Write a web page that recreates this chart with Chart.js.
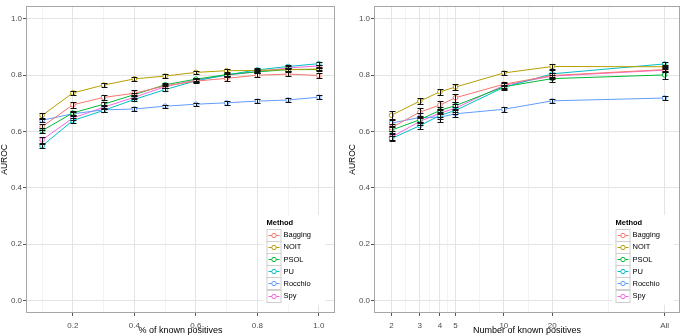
<!DOCTYPE html>
<html lang="en">
<head>
<meta charset="UTF-8">
<title>AUROC vs known positives</title>
<script src="https://cdn.jsdelivr.net/npm/chart.js"></script>
<style>
  html, body { margin: 0; padding: 0; background: #fff; }
  #left { position: absolute; left: 0; top: 0; }
  #right { position: absolute; left: 340px; top: 0; }
</style>
</head>
<body>
<canvas id="left" width="340" height="336"></canvas>
<canvas id="right" width="345" height="336"></canvas>
<script>
// methods and their colours (ggplot default hue palette)
const methods = ["Bagging", "NOIT", "PSOL", "PU", "Rocchio", "Spy"];
const colors = ["#F8766D", "#B79F00", "#00BA38", "#00BFC4", "#619CFF", "#F564E3"];

// y axis
const yTicks = [0, 0.2, 0.4, 0.6, 0.8, 1.0];
const yTickLabels = ["0.0", "0.2", "0.4", "0.6", "0.8", "1.0"];

// left panel: % of known positives
const pctX = [0.1, 0.2, 0.3, 0.4, 0.5, 0.6, 0.7, 0.8, 0.9, 1.0];
const pctTicks = [0.2, 0.4, 0.6, 0.8, 1.0];
const pctTickLabels = ["0.2", "0.4", "0.6", "0.8", "1.0"];
const pctMinor = [0.1, 0.3, 0.5, 0.7, 0.9];

const pctBagging = [0.617, 0.695, 0.721, 0.736, 0.762, 0.779, 0.789, 0.800, 0.804, 0.799];
const pctNOIT    = [0.657, 0.737, 0.765, 0.787, 0.797, 0.810, 0.816, 0.817, 0.820, 0.822];
const pctPSOL    = [0.603, 0.666, 0.697, 0.731, 0.766, 0.786, 0.802, 0.812, 0.820, 0.820];
const pctPU      = [0.549, 0.639, 0.675, 0.714, 0.749, 0.780, 0.801, 0.819, 0.831, 0.841];
const pctRocchio = [0.640, 0.663, 0.677, 0.680, 0.690, 0.697, 0.702, 0.708, 0.712, 0.722];
const pctSpy     = [0.570, 0.648, 0.686, 0.722, 0.759, 0.783, 0.800, 0.813, 0.826, 0.833];

// error bar half widths
const pctBaggingErr = [0.010, 0.010, 0.010, 0.010, 0.006, 0.007, 0.008, 0.007, 0.006, 0.009];
const pctNOITErr    = [0.010, 0.006, 0.006, 0.006, 0.006, 0.006, 0.006, 0.005, 0.005, 0.005];
const pctPSOLErr    = [0.008, 0.006, 0.008, 0.006, 0.005, 0.005, 0.005, 0.005, 0.005, 0.005];
const pctPUErr      = [0.008, 0.008, 0.006, 0.006, 0.006, 0.005, 0.005, 0.005, 0.005, 0.005];
const pctRocchioErr = [0.006, 0.006, 0.006, 0.006, 0.006, 0.006, 0.006, 0.006, 0.006, 0.006];
const pctSpyErr     = [0.009, 0.008, 0.007, 0.006, 0.006, 0.006, 0.006, 0.005, 0.005, 0.005];

// right panel: number of known positives ("All" sits at 100 on the log axis)
const numX = [2, 3, 4, 5, 10, 20, 100];
const numTickLabels = ["2", "3", "4", "5", "10", "20", "All"];

const numBagging = [0.614, 0.669, 0.694, 0.720, 0.768, 0.799, 0.820];
const numNOIT    = [0.658, 0.708, 0.741, 0.758, 0.808, 0.831, 0.830];
const numPSOL    = [0.605, 0.642, 0.675, 0.692, 0.759, 0.788, 0.801];
const numPU      = [0.575, 0.621, 0.657, 0.675, 0.757, 0.805, 0.840];
const numRocchio = [0.630, 0.650, 0.651, 0.663, 0.679, 0.709, 0.719];
const numSpy     = [0.580, 0.636, 0.665, 0.683, 0.764, 0.797, 0.818];

const numBaggingErr = [0.012, 0.016, 0.016, 0.014, 0.008, 0.010, 0.008];
const numNOITErr    = [0.014, 0.010, 0.010, 0.010, 0.008, 0.008, 0.008];
const numPSOLErr    = [0.010, 0.012, 0.012, 0.012, 0.008, 0.012, 0.014];
const numPUErr      = [0.008, 0.012, 0.012, 0.012, 0.010, 0.012, 0.008];
const numRocchioErr = [0.010, 0.015, 0.016, 0.012, 0.008, 0.007, 0.007];
const numSpyErr     = [0.010, 0.012, 0.014, 0.014, 0.008, 0.010, 0.008];

const FONT = "'Liberation Sans', Arial, sans-serif";
Chart.defaults.font.family = FONT;
Chart.defaults.animation = false;

function near(a, b) { return Math.abs(a - b) < 1e-9 * Math.max(1, Math.abs(b)); }

function buildDatasets(xs, series, errs) {
  return methods.map((m, i) => ({
    label: m,
    data: xs.map((x, j) => ({ x: x, y: series[i][j] })),
    err: errs[i],
    borderColor: colors[i],
    borderWidth: 1,
    pointRadius: 2.3,
    pointBorderWidth: 1,
    pointBorderColor: colors[i],
    pointBackgroundColor: "#ffffff",
    tension: 0,
  }));
}

// black error bars drawn through the scales
const errorBars = {
  id: "errorBars",
  afterDatasetsDraw(chart) {
    const ctx = chart.ctx, xs = chart.scales.x, ys = chart.scales.y;
    ctx.save();
    ctx.strokeStyle = "#111";
    ctx.lineWidth = 1;
    chart.data.datasets.forEach((ds) => {
      ds.data.forEach((p, j) => {
        const e = ds.err[j];
        const px = Math.round(xs.getPixelForValue(p.x)) + 0.5;
        const top = Math.round(ys.getPixelForValue(p.y + e)) + 0.5;
        const bot = Math.round(ys.getPixelForValue(p.y - e)) + 0.5;
        ctx.beginPath();
        ctx.moveTo(px, top); ctx.lineTo(px, bot);
        ctx.moveTo(px - 3, top); ctx.lineTo(px + 3, top);
        ctx.moveTo(px - 3, bot); ctx.lineTo(px + 3, bot);
        ctx.stroke();
      });
    });
    ctx.restore();
  },
};

// panel border + "Method" legend
function panelExtras(keyLeft) {
  return {
    id: "panelExtras",
    afterDraw(chart) {
      const ctx = chart.ctx, a = chart.chartArea;
      ctx.save();
      ctx.strokeStyle = "#a6a6a6";
      ctx.lineWidth = 1;
      ctx.strokeRect(Math.round(a.left) + 0.5, Math.round(a.top) + 0.5,
        Math.round(a.right - a.left) - 1, Math.round(a.bottom - a.top) - 1);

      const top = 228.5, row = 12.2, kw = 14;
      ctx.fillStyle = "#ffffff";
      ctx.fillRect(keyLeft - 3, 215, 62, top + row * methods.length + 3 - 215);
      ctx.fillStyle = "#000";
      ctx.textBaseline = "middle";
      ctx.textAlign = "left";
      ctx.font = "bold 7.5px " + FONT;
      ctx.fillText("Method", keyLeft, 222.5);
      ctx.font = "7.5px " + FONT;
      methods.forEach((m, i) => {
        const y = top + i * row;
        ctx.strokeStyle = "#cfcfcf";
        ctx.strokeRect(keyLeft + 0.5, Math.round(y) + 0.5, kw, Math.round(row));
        const cy = Math.round(y + row / 2) + 0.5;
        ctx.strokeStyle = colors[i];
        ctx.beginPath();
        ctx.moveTo(keyLeft + 2, cy); ctx.lineTo(keyLeft + kw - 1, cy);
        ctx.stroke();
        ctx.beginPath();
        ctx.arc(keyLeft + kw / 2 + 0.5, cy, 2.2, 0, Math.PI * 2);
        ctx.fillStyle = "#fff";
        ctx.fill();
        ctx.stroke();
        ctx.fillStyle = "#000";
        ctx.fillText(m, keyLeft + kw + 3, y + row / 2 + 0.5);
      });
      ctx.restore();
    },
  };
}

function makePanel(id, opts) {
  const isMajor = (v) => opts.xTicks.some((t) => near(v, t));
  new Chart(document.getElementById(id), {
    type: "line",
    data: { datasets: buildDatasets(opts.xs, opts.series, opts.errs) },
    options: {
      responsive: false,
      parsing: true,
      layout: { padding: { top: 1, right: 2, bottom: 0, left: opts.padLeft } },
      plugins: { legend: { display: false }, tooltip: { enabled: false } },
      scales: {
        x: {
          type: opts.xType,
          min: opts.xMin,
          max: opts.xMax,
          afterBuildTicks: (s) => { s.ticks = opts.xGrid.map((v) => ({ value: v })); },
          afterFit: (s) => { s.height = 23; },
          ticks: {
            autoSkip: false, maxRotation: 0, padding: 5, color: "#4d4d4d",
            font: { size: 8 },
            callback: (v) => {
              const k = opts.xTicks.findIndex((t) => near(v, t));
              return k >= 0 ? opts.xLabels[k] : "";
            },
          },
          grid: {
            color: (c) => (isMajor(c.tick.value) ? "#e4e4e4" : "#f3f3f3"),
            tickColor: (c) => (isMajor(c.tick.value) ? "#555" : "rgba(0,0,0,0)"),
            tickLength: 3,
          },
          border: { display: false },
          title: { display: true, text: opts.xTitle, color: "#000", font: { size: 9 }, padding: 0 },
        },
        y: {
          min: -0.0444,
          max: 1.0465,
          afterBuildTicks: (s) => { s.ticks = yTicks.map((v) => ({ value: v })); },
          afterFit: (s) => { s.width = opts.yWidth; },
          ticks: {
            padding: 1, color: "#4d4d4d", font: { size: 8 },
            callback: (v, i) => yTickLabels[i],
          },
          grid: { color: "#e4e4e4", tickColor: "#555", tickLength: 3 },
          border: { display: false },
          title: { display: true, text: "AUROC", color: "#000", font: { size: 8.5 }, padding: 0 },
        },
      },
    },
    plugins: [errorBars, panelExtras(opts.keyLeft)],
  });
}

makePanel("left", {
  xType: "linear",
  xMin: 0.0477, xMax: 1.0525,
  xs: pctX,
  series: [pctBagging, pctNOIT, pctPSOL, pctPU, pctRocchio, pctSpy],
  errs: [pctBaggingErr, pctNOITErr, pctPSOLErr, pctPUErr, pctRocchioErr, pctSpyErr],
  xTicks: pctTicks,
  xLabels: pctTickLabels,
  xGrid: pctMinor.concat(pctTicks),
  xTitle: "% of known positives",
  padLeft: 0, yWidth: 26,
  keyLeft: 266.5,
});

// log-scale minor grid lines sit halfway between breaks
const numMinor = numX.slice(1).map((v, i) => Math.sqrt(v * numX[i]));

makePanel("right", {
  xType: "logarithmic",
  xMin: 1.556, xMax: 124.7,
  xs: numX,
  series: [numBagging, numNOIT, numPSOL, numPU, numRocchio, numSpy],
  errs: [numBaggingErr, numNOITErr, numPSOLErr, numPUErr, numRocchioErr, numSpyErr],
  xTicks: numX,
  xLabels: numTickLabels,
  xGrid: numMinor.concat(numX),
  xTitle: "Number of known positives",
  padLeft: 7.5, yWidth: 26.5,
  keyLeft: 275.5,
});
</script>
</body>
</html>
